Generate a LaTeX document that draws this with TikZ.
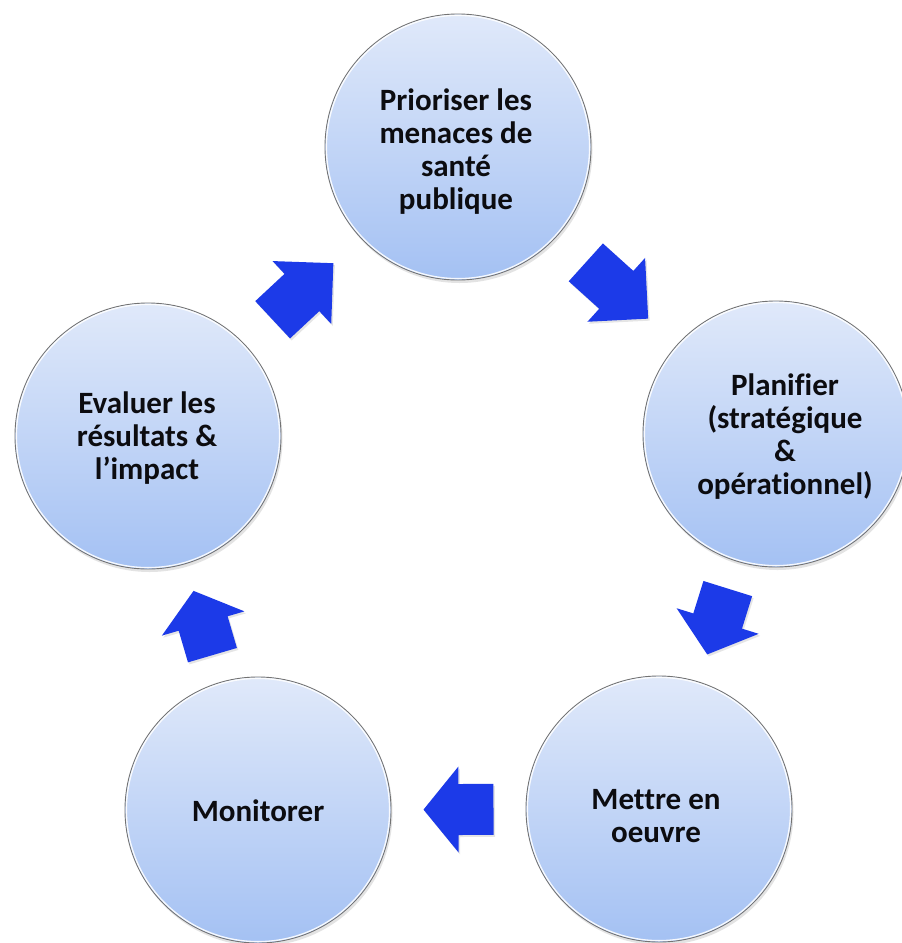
\documentclass[tikz,border=0pt]{standalone}
\usepackage{fontspec}
\setmainfont{Carlito}[RawFeature={-liga;-clig}]
\usetikzlibrary{calc,shadows}

\definecolor{flowblue}{RGB}{28,58,232}
\definecolor{discTop}{RGB}{224,233,250}
\definecolor{discBottom}{RGB}{164,193,243}
\definecolor{discEdge}{RGB}{115,115,115}
\definecolor{labelInk}{RGB}{12,12,16}

\tikzset{
  disc/.style={circle, minimum size=266pt, inner sep=0pt,
    top color=discTop, bottom color=discBottom,
    draw=discEdge, line width=0.9pt,
    drop shadow={shadow xshift=1.5pt, shadow yshift=-3pt, opacity=0.22}},
  discrim/.style={white, line width=1.3pt, opacity=0.9},
  disclabel/.style={align=center, inner sep=0pt, text=labelInk,
    font=\fontsize{31}{33}\selectfont\bfseries},
  flowarrow/.style={fill=flowblue,
    drop shadow={shadow xshift=1.5pt, shadow yshift=-2pt, opacity=0.2}}
}

% Block arrow centred between two discs, pointing from #1 towards #2;
% #3 = shaft length, #4 = head length (pt)
\newcommand{\cyclearrow}[4]{%
  \pgfmathanglebetweenpoints{\pgfpointanchor{#1}{center}}{\pgfpointanchor{#2}{center}}%
  \edef\cycArrowDir{\pgfmathresult}%
  \pgfmathsetmacro\cycArrowTail{-(#3+#4)/2}%
  \pgfmathsetmacro\cycArrowNeck{\cycArrowTail+#3}%
  \pgfmathsetmacro\cycArrowTip{\cycArrowTail+#3+#4}%
  \begin{scope}[shift={($(#1.center)!0.5!(#2.center)$)}, rotate=\cycArrowDir]
    \fill[flowarrow] (\cycArrowTail,-25.5) -- (\cycArrowNeck,-25.5)
      -- (\cycArrowNeck,-43) -- (\cycArrowTip,0) -- (\cycArrowNeck,43)
      -- (\cycArrowNeck,25.5) -- (\cycArrowTail,25.5) -- cycle;
  \end{scope}}

\begin{document}
\begin{tikzpicture}[x=1pt, y=-1pt]
  \useasboundingbox (0,0) rectangle (902,943);
  \fill[white] (0,0) rectangle (902,943);

  % discs
  \node[disc] (prior)   at (458,147) {};
  \node[disc] (plan)    at (776,434) {};
  \node[disc] (execute) at (659,809) {};
  \node[disc] (monitor) at (258,810) {};
  \node[disc] (assess)  at (148,436) {};

  \foreach \d in {prior,plan,execute,monitor,assess}
    \draw[discrim] (\d.center) circle[radius=131.6pt];

  % labels
  \node[disclabel] (priorText)   at (456,152) {Prioriser les\\menaces de\\santé\\publique};
  \node[disclabel] (planText)    at (785,437) {Planifier\\(stratégique\\\&\\opérationnel)};
  \node[disclabel] (executeText) at (656,816) {Mettre en\\oeuvre};
  \node[disclabel] (monitorText) at (258,811) {Monitorer};
  \node[disclabel] (assessText)  at (147,438) {Evaluer les\\résultats \&\\l’impact};

  % cycle arrows
  \cyclearrow{prior}{plan}{41}{43}
  \cyclearrow{plan}{execute}{34}{35}
  \cyclearrow{execute}{monitor}{35}{35}
  \cyclearrow{monitor}{assess}{33}{34}
  \cyclearrow{assess}{prior}{40}{43}
\end{tikzpicture}
\end{document}
